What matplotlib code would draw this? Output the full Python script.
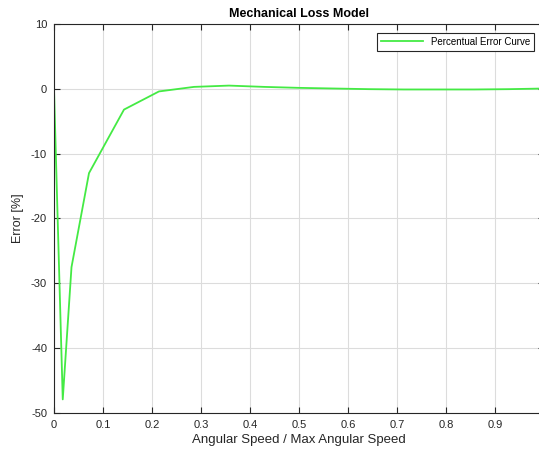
import matplotlib
matplotlib.use("Agg")
import matplotlib.pyplot as plt
import numpy as np

plt.rcParams["font.family"] = ["Liberation Sans", "DejaVu Sans"]
plt.rcParams["axes.unicode_minus"] = False

# speed ratio samples and percentual error
speed = [0, 1/56, 1/28, 1/14, 2/14, 3/14, 4/14, 5/14, 6/14, 7/14,
         8/14, 9/14, 10/14, 11/14, 12/14, 13/14, 1.0]
error = [0.0, -47.9, -27.5, -13.0, -3.2, -0.4, 0.3, 0.5, 0.3, 0.15,
         0.05, -0.05, -0.1, -0.1, -0.1, -0.05, 0.05]

x_ticks = [0, 0.1, 0.2, 0.3, 0.4, 0.5, 0.6, 0.7, 0.8, 0.9]
y_ticks = [-50, -40, -30, -20, -10, 0, 10]

W, H = 539, 454
fig = plt.figure(figsize=(W / 100, H / 100), dpi=100, facecolor="white")
ax = fig.add_axes([54 / W, 41 / H, 490 / W, 389 / H])

ax.plot(speed, error, color="#44ea44", lw=1.3, label="Percentual Error Curve")
ax.set_xlim(0, 1)
ax.set_ylim(-50, 10)
ax.set_xticks(x_ticks)
ax.set_xticklabels([f"{t:g}" for t in x_ticks])
ax.set_yticks(y_ticks)

ax.grid(True, color="#dcdcdc", lw=0.8)
ax.set_axisbelow(True)
ax.tick_params(direction="in", length=4, labelsize=8, colors="#262626",
               top=True, right=True)
ax.tick_params(axis="y", pad=5)
ax.tick_params(axis="x", pad=5)
for s in ax.spines.values():
    s.set_color("#262626")
    s.set_linewidth(0.8)

ax.set_title("Mechanical Loss Model", fontsize=9, fontweight="bold", pad=5)
ax.set_xlabel("Angular Speed / Max Angular Speed", fontsize=9.5, color="#262626", labelpad=3)
ax.set_ylabel("Error [%]", fontsize=9, color="#262626", labelpad=5)

leg = ax.legend(loc="upper right", bbox_to_anchor=(534 / W, 1 - 33 / H),
                bbox_transform=fig.transFigure, fontsize=7, fancybox=False,
                framealpha=1, edgecolor="#262626", borderpad=0.4,
                handlelength=4.3, borderaxespad=0)
leg.get_frame().set_linewidth(0.8)

fig.savefig("out.png", dpi=100, facecolor="white")
